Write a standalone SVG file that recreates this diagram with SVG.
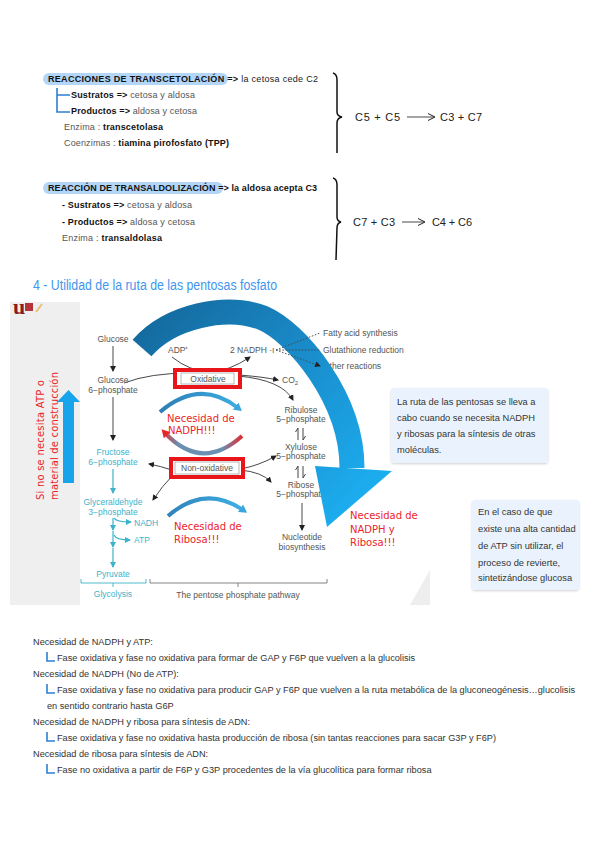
<svg xmlns="http://www.w3.org/2000/svg" width="599" height="848" viewBox="0 0 599 848">
<style>
.t9{font-family:"Liberation Sans",Arial,sans-serif;font-size:9px;fill:#1a1a1a}
.b{font-weight:bold;fill:#111}
.gr{fill:#555}
.fig{font-family:"Liberation Sans",Arial,sans-serif;font-size:8.5px;fill:#555;text-anchor:middle}
.figs{font-family:"Liberation Sans",Arial,sans-serif;font-size:8.5px;fill:#555}
.teal{fill:#3db3ca}
.red{font-family:"DejaVu Sans",sans-serif;font-size:10px;fill:#ec2428}
.bx{font-family:"Liberation Sans",Arial,sans-serif;font-size:9.3px;fill:#333}
.bot{font-family:"Liberation Sans",Arial,sans-serif;font-size:9.2px;fill:#333}
.eq{font-family:"Liberation Sans",Arial,sans-serif;font-size:11px;fill:#222}
.ln{fill:none;stroke:#333;stroke-width:0.9}
.tl{fill:none;stroke:#3db3ca;stroke-width:1.2}
.brk{fill:none;stroke:#2d7fd3;stroke-width:1.6}
.rbox{fill:#fff;stroke:#e8151b;stroke-width:4}
.ibox{fill:#fff;stroke:#999;stroke-width:0.7}
.note{fill:#eaf3fd}
</style>
<defs>
<marker id="ab" markerWidth="6" markerHeight="6" refX="5" refY="3" orient="auto" markerUnits="userSpaceOnUse"><path d="M0,0 L6,3 L0,6 Z" fill="#222"/></marker>
<marker id="at" markerWidth="6" markerHeight="6" refX="5" refY="3" orient="auto" markerUnits="userSpaceOnUse"><path d="M0,0 L6,3 L0,6 Z" fill="#3db3ca"/></marker>
<marker id="ae" markerWidth="8" markerHeight="8" refX="6" refY="4" orient="auto" markerUnits="userSpaceOnUse"><path d="M0,0.5 L7,4 L0,7.5" fill="none" stroke="#222" stroke-width="1"/></marker>
<marker id="abl" markerWidth="9" markerHeight="9" refX="3" refY="4.5" orient="auto" markerUnits="userSpaceOnUse"><path d="M0,0 L8,4.5 L0,9 Z" fill="#3aa6dc"/></marker>
<marker id="ard" markerWidth="9" markerHeight="9" refX="3" refY="4.5" orient="auto-start-reverse" markerUnits="userSpaceOnUse"><path d="M0,0 L8,4.5 L0,9 Z" fill="#e8262a"/></marker>
<linearGradient id="bigG" gradientUnits="userSpaceOnUse" x1="140" y1="320" x2="360" y2="520"><stop offset="0" stop-color="#14699d"/><stop offset="0.5" stop-color="#1a8dcc"/><stop offset="1" stop-color="#1cb0f2"/></linearGradient>
<linearGradient id="arcR" gradientUnits="userSpaceOnUse" x1="160" y1="0" x2="243" y2="0"><stop offset="0" stop-color="#e8262a"/><stop offset="0.22" stop-color="#6a8fb0"/><stop offset="0.75" stop-color="#6a8fb0"/><stop offset="1" stop-color="#e8262a"/></linearGradient>
<linearGradient id="arcB" gradientUnits="userSpaceOnUse" x1="160" y1="0" x2="245" y2="0"><stop offset="0" stop-color="#2d7fb5"/><stop offset="1" stop-color="#3fb0e6"/></linearGradient>
<filter id="sh" x="-10%" y="-10%" width="120%" height="130%"><feDropShadow dx="0" dy="1" stdDeviation="1" flood-color="#000" flood-opacity="0.18"/></filter>
</defs>
<rect width="599" height="848" fill="#fff"/>

<!-- Section 1: transcetolacion -->
<g id="transcetolacion">
<rect x="43" y="73" width="185" height="12" rx="6" fill="#b3d5f7"/>
<text class="t9" x="48" y="82" textLength="270"><tspan class="b">REACCIONES DE TRANSCETOLACIÓN</tspan><tspan class="b"> =&gt;</tspan> la cetosa cede C2</text>
<path class="brk" d="M57,88 V112 H70 M57,95 H70"/>
<text class="t9" x="71" y="98" textLength="124"><tspan class="b">Sustratos =&gt;</tspan><tspan class="gr"> cetosa y aldosa</tspan></text>
<text class="t9" x="71" y="114" textLength="126"><tspan class="b">Productos =&gt;</tspan><tspan class="gr"> aldosa y cetosa</tspan></text>
<text class="t9" x="64" y="130" textLength="99"><tspan class="gr">Enzima : </tspan><tspan class="b">transcetolasa</tspan></text>
<text class="t9" x="64" y="146" textLength="165"><tspan class="gr">Coenzimas : </tspan><tspan class="b">tiamina pirofosfato (TPP)</tspan></text>
</g>
<g id="eq1">
<path d="M333,73 Q337,74 337,80 L337,112 Q337,116 342,117 Q337,118 337,123 L337,153" fill="none" stroke="#111" stroke-width="1.5"/>
<text class="eq" x="355" y="121" textLength="45">C5 + C5</text>
<path d="M407,117 H434" class="ln" stroke="#222" marker-end="url(#ae)"/>
<text class="eq" x="440" y="121" textLength="42">C3 + C7</text>
</g>

<!-- Section 2: transaldolizacion -->
<g id="transaldolizacion">
<rect x="43" y="182" width="180" height="12" rx="6" fill="#b3d5f7"/>
<text class="t9" x="48" y="191" textLength="269"><tspan class="b">REACCIÓN DE TRANSALDOLIZACIÓN</tspan><tspan class="b"> =&gt;</tspan><tspan class="b"> la aldosa acepta C3</tspan></text>
<text class="t9" x="62" y="208" textLength="130"><tspan class="b">- Sustratos =&gt;</tspan><tspan class="gr"> cetosa y aldosa</tspan></text>
<text class="t9" x="62" y="225" textLength="133"><tspan class="b">- Productos =&gt;</tspan><tspan class="gr"> aldosa y cetosa</tspan></text>
<text class="t9" x="62" y="241" textLength="100"><tspan class="gr">Enzima : </tspan><tspan class="b">transaldolasa</tspan></text>
</g>
<g id="eq2">
<path d="M333,178 Q337,179 337,185 L337,217 Q337,221 341,222 Q337,223 337,228 L336,260" fill="none" stroke="#111" stroke-width="1.5"/>
<text class="eq" x="353" y="226" textLength="42">C7 + C3</text>
<path d="M402,222 H424" class="ln" stroke="#222" marker-end="url(#ae)"/>
<text class="eq" x="432" y="226" textLength="40">C4 + C6</text>
</g>

<!-- Title -->
<text id="title" x="33" y="290" font-family="Liberation Sans, Arial, sans-serif" font-size="14" fill="#3f96ee" textLength="244" lengthAdjust="spacingAndGlyphs">4 - Utilidad de la ruta de las pentosas fosfato</text>

<!-- Figure -->
<g id="figure-bg">
<rect x="10" y="302" width="420" height="303" fill="#fff"/>
<rect x="10" y="302" width="70" height="303" fill="#efefef"/>
<polygon points="410,605 430,570 430,605" fill="#eeeeee"/>
<text x="13" y="314" font-family="Liberation Serif, serif" font-size="22" font-weight="bold" fill="#8e1b1f">u</text>
<rect x="25" y="303" width="8" height="8" fill="#b5353a"/>
<path d="M36,312 L42,304" stroke="#e8c27a" stroke-width="2"/>
</g>
<g id="side-note">
<text class="red" transform="translate(44,500) rotate(-90)" textLength="120" font-size="10.5">Si no se necesita ATP o</text>
<text class="red" transform="translate(58,500) rotate(-90)" textLength="128" font-size="10.5">material de construcción</text>
<polygon points="63,483 63,402 57,402 68.5,390 80,402 74,402 74,483" fill="#18a4ea"/>
</g>

<g id="connectors">
<!-- glycolysis -->
<path class="ln" d="M113,346 V371" marker-end="url(#ab)"/>
<path class="ln" d="M113,397 V440" marker-end="url(#ab)"/>
<path class="tl" d="M113,469 V493" marker-end="url(#at)"/>
<path class="tl" d="M113,518 V530" marker-end="url(#at)"/>
<path class="tl" d="M113,531 V547" marker-end="url(#at)"/>
<path class="tl" d="M113,548 V567" marker-end="url(#at)"/>
<path class="tl" d="M114,518 Q116,522 131,522" marker-end="url(#at)"/>
<path class="tl" d="M114,535 Q116,540 130,540" marker-end="url(#at)"/>
<path d="M81,579 V583 H146 V579 M113,583 V587" fill="none" stroke="#3db3ca" stroke-width="0.9"/>
<path d="M150,579 V583 H327 V579 M238,583 V587" fill="none" stroke="#777" stroke-width="0.9"/>
<!-- oxidative -->
<path class="ln" d="M124,383 Q150,373 190,373 Q250,374 278,380" marker-end="url(#ab)"/>
<path class="ln" d="M238,376 Q282,380 293,400" marker-end="url(#ab)"/>
<path class="ln" d="M172,357 Q208,386 250,357" marker-end="url(#ab)"/>
<!-- non-oxidative -->
<path class="ln" d="M172,470 Q160,466 149,464" marker-end="url(#ab)"/>
<path class="ln" d="M174,474 Q162,486 153,500" marker-end="url(#ab)"/>
<path class="ln" d="M240,469 Q258,466 276,456" marker-end="url(#ab)"/>
<path class="ln" d="M240,470 Q262,472 271,482" marker-end="url(#ab)"/>
<path class="ln" d="M302,503 V530" marker-end="url(#ab)"/>
<!-- equilibrium harpoons -->
<path d="M298,440 V428 L295.5,432 M303,428 V440 L305.5,436" fill="none" stroke="#444" stroke-width="1"/>
<path d="M298,478 V466 L295.5,470 M303,466 V478 L305.5,474" fill="none" stroke="#444" stroke-width="1"/>
</g>

<g id="glucose"><text class="fig" x="113" y="342">Glucose</text></g>
<g id="g6p"><text class="fig" x="113" y="383">Glucose</text><text class="fig" x="113" y="393">6−phosphate</text></g>
<g id="f6p"><text class="fig teal" x="113" y="455">Fructose</text><text class="fig teal" x="113" y="465">6−phosphate</text></g>
<g id="g3p"><text class="fig teal" x="113" y="505">Glyceraldehyde</text><text class="fig teal" x="113" y="515">3−phosphate</text></g>
<g id="nadh"><text class="figs teal" x="134" y="526">NADH</text></g>
<g id="atp"><text class="figs teal" x="134" y="543">ATP</text></g>
<g id="pyruvate"><text class="fig teal" x="113" y="577">Pyruvate</text></g>
<g id="glycolysis"><text class="fig teal" x="113" y="597">Glycolysis</text></g>
<g id="ppp"><text class="fig" x="238" y="598" fill="#333">The pentose phosphate pathway</text></g>

<g id="oxidative">
<rect class="rbox" x="175" y="370" width="65" height="17"/>
<rect class="ibox" x="181" y="373" width="53" height="11"/>
<text class="fig" x="208" y="382" fill="#333">Oxidative</text>
</g>
<g id="nonoxidative">
<rect class="rbox" x="171" y="459" width="72" height="18"/>
<rect class="ibox" x="175" y="462" width="64" height="12"/>
<text class="fig" x="207" y="471" fill="#333">Non-oxidative</text>
</g>
<g id="nadp"><text class="figs" x="168" y="353">ADP⁺</text></g>
<g id="nadph"><text class="figs" x="230" y="353">2 NADPH ·ı</text></g>
<g id="co2"><text class="figs" x="282" y="383">CO<tspan font-size="6" dy="2">2</tspan></text></g>
<g id="fatty"><text class="figs" x="323" y="336">Fatty acid synthesis</text></g>
<g id="glut"><text class="figs" x="323" y="353">Glutathione reduction</text></g>
<g id="other"><text class="figs" x="323" y="369">Other reactions</text></g>
<g id="ribulose"><text class="fig" x="301" y="413">Ribulose</text><text class="fig" x="301" y="422">5−phosphate</text></g>
<g id="xylulose"><text class="fig" x="301" y="450">Xylulose</text><text class="fig" x="301" y="459">5−phosphate</text></g>
<g id="ribose"><text class="fig" x="301" y="488">Ribose</text><text class="fig" x="301" y="497">5−phosphate</text></g>
<g id="nucleotide"><text class="fig" x="302" y="540">Nucleotide</text><text class="fig" x="302" y="550">biosynthesis</text></g>

<g id="big-arrow">
<path d="M142,348 C170,316 226,304 263,318 C296,332 352,398 352,468" fill="none" stroke="url(#bigG)" stroke-width="25"/>
<polygon points="315,466 392,471 327,527" fill="url(#bigG)"/>
</g>

<g id="dotted-connectors">
<path d="M276,350 L320,333 M276,350 H320 M276,350 L320,366" fill="none" stroke="#444" stroke-width="0.9" stroke-dasharray="1.6 1.6" marker-end="url(#ab)"/>
</g>

<g id="arcs">
<path d="M160,412 Q200,378 238,408" fill="none" stroke="url(#arcB)" stroke-width="4" marker-end="url(#abl)"/>
<path d="M165,433 Q202,472 242,436" fill="none" stroke="url(#arcR)" stroke-width="4" marker-start="url(#ard)"/>
<path d="M168,516 Q205,484 243,510" fill="none" stroke="url(#arcB)" stroke-width="4" marker-end="url(#abl)"/>
</g>
<g id="need-nadph"><text class="red" x="167" y="422">Necesidad de</text><text class="red" x="168" y="434">NADPH!!!</text></g>
<g id="need-ribosa"><text class="red" x="174" y="530">Necesidad de</text><text class="red" x="174" y="543">Ribosa!!!</text></g>
<g id="need-both"><text class="red" x="350" y="519">Necesidad de</text><text class="red" x="350" y="533">NADPH y</text><text class="red" x="350" y="546">Ribosa!!!</text></g>

<g id="note1">
<rect class="note" x="391" y="388" width="157" height="75" rx="3" filter="url(#sh)"/>
<text class="bx" x="397" y="405">La ruta de las pentosas se lleva a</text>
<text class="bx" x="397" y="421">cabo cuando se necesita NADPH</text>
<text class="bx" x="397" y="437">y ribosas para la síntesis de otras</text>
<text class="bx" x="397" y="453">moléculas.</text>
</g>
<g id="note2">
<rect class="note" x="472" y="500" width="107" height="90" rx="3" filter="url(#sh)"/>
<text class="bx" x="478" y="515">En el caso de que</text>
<text class="bx" x="478" y="532">existe una alta cantidad</text>
<text class="bx" x="478" y="549">de ATP sin utilizar, el</text>
<text class="bx" x="478" y="566">proceso de revierte,</text>
<text class="bx" x="478" y="581">sintetizándose glucosa</text>
</g>

<!-- Bottom notes -->
<g id="bottom">
<text class="bot" x="33" y="645">Necesidad de NADPH y ATP:</text>
<path class="brk" d="M47,652 V661 H55"/>
<text class="bot" x="57" y="661">Fase oxidativa y fase no oxidativa para formar de GAP y F6P que vuelven a la glucolisis</text>
<text class="bot" x="33" y="677">Necesidad de NADPH (No de ATP):</text>
<path class="brk" d="M47,684 V693 H55"/>
<text class="bot" x="57" y="693">Fase oxidativa y fase no oxidativa para producir GAP y F6P que vuelven a la ruta metabólica de la gluconeogénesis…glucolisis</text>
<text class="bot" x="47" y="709">en sentido contrario hasta G6P</text>
<text class="bot" x="33" y="725">Necesidad de NADPH y ribosa para síntesis de ADN:</text>
<path class="brk" d="M47,732 V741 H55"/>
<text class="bot" x="57" y="741">Fase oxidativa y fase no oxidativa hasta producción de ribosa (sin tantas reacciones para sacar G3P y F6P)</text>
<text class="bot" x="33" y="757">Necesidad de ribosa para síntesis de ADN:</text>
<path class="brk" d="M47,764 V773 H55"/>
<text class="bot" x="57" y="773">Fase no oxidativa a partir de F6P y G3P procedentes de la vía glucolítica para formar ribosa</text>
</g>
</svg>
